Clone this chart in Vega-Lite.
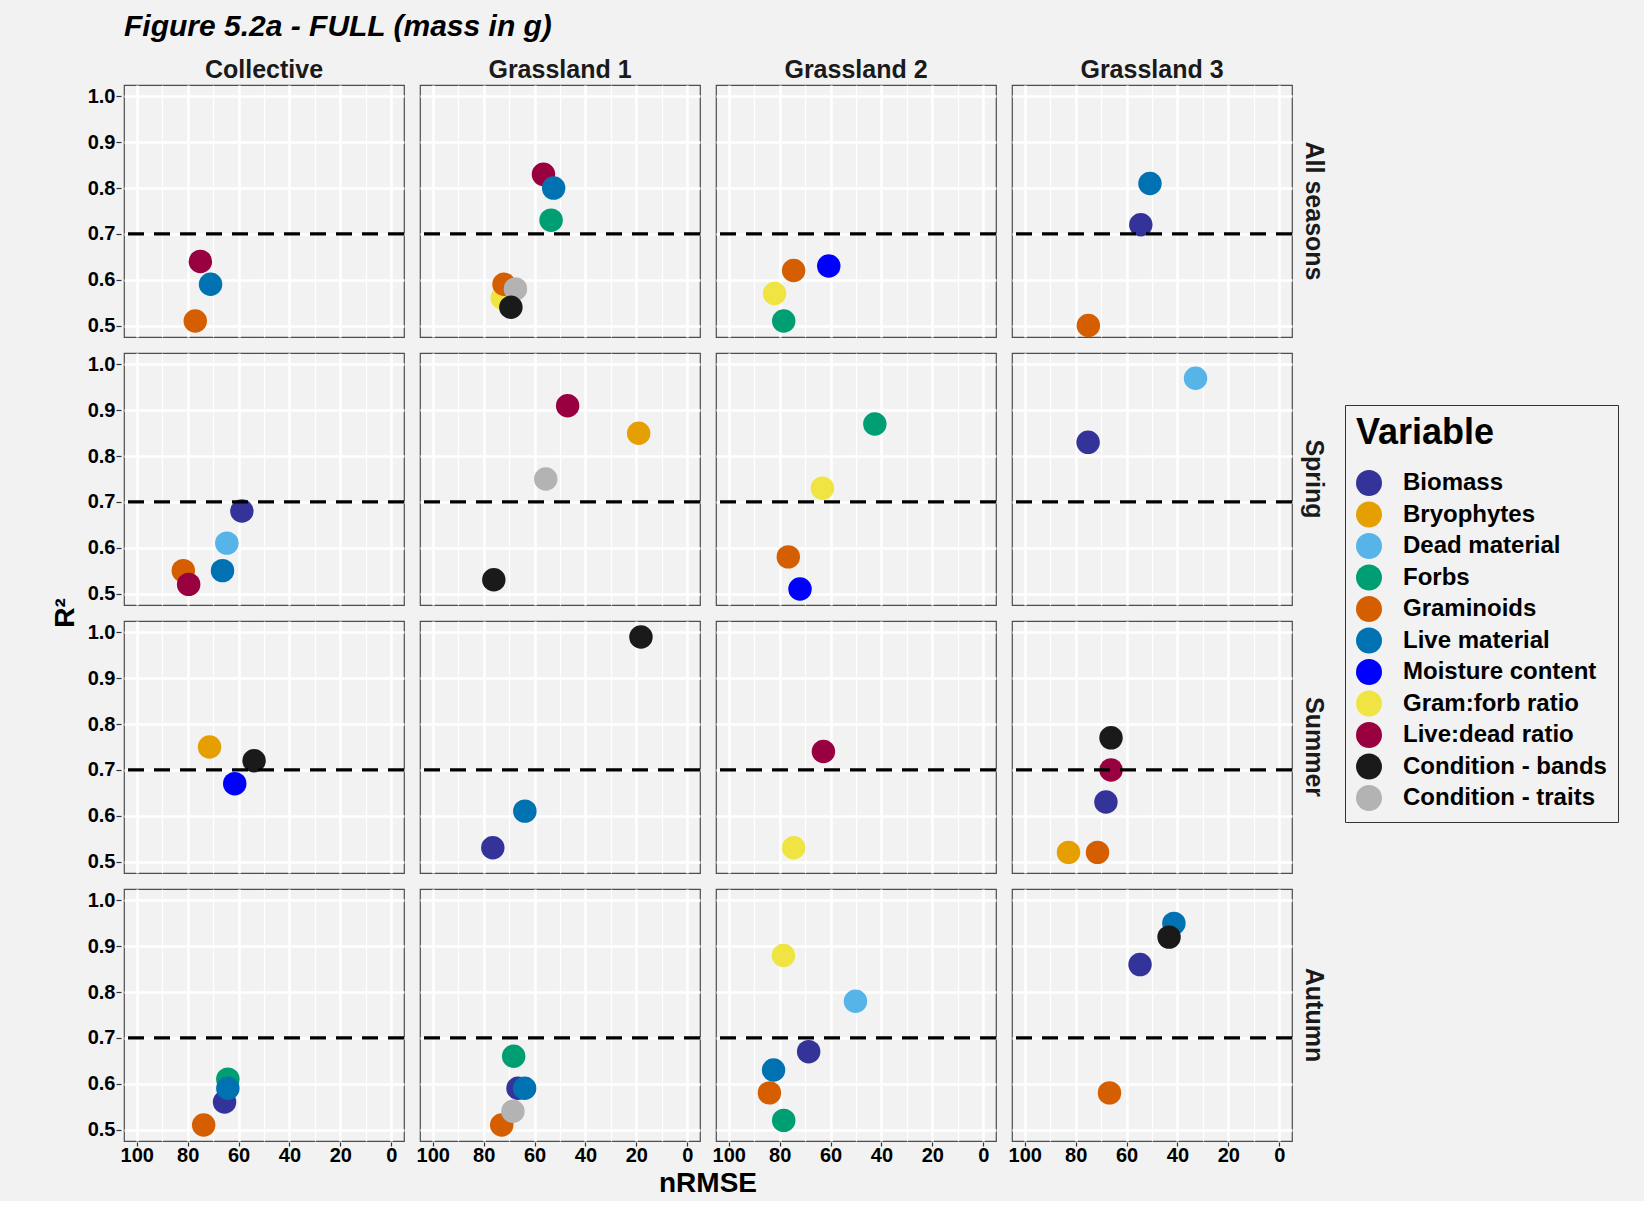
{
  "$schema": "https://vega.github.io/schema/vega-lite/v6.json",
  "background": "#F2F2F2",
  "padding": {"left": 52, "top": 12, "right": 25, "bottom": 3},
  "title": {
    "text": "Figure 5.2a - FULL (mass in g)",
    "anchor": "start",
    "frame": "group",
    "fontSize": 30,
    "fontWeight": "bold",
    "fontStyle": "italic",
    "color": "#000000",
    "offset": 16
  },
  "data": {
    "values": [
      {"group": "Collective", "season": "All seasons", "variable": "Live:dead ratio", "nRMSE": 75, "R2": 0.64},
      {"group": "Collective", "season": "All seasons", "variable": "Live material", "nRMSE": 71, "R2": 0.59},
      {"group": "Collective", "season": "All seasons", "variable": "Graminoids", "nRMSE": 77, "R2": 0.51},
      {"group": "Grassland 1", "season": "All seasons", "variable": "Live:dead ratio", "nRMSE": 56.5, "R2": 0.83},
      {"group": "Grassland 1", "season": "All seasons", "variable": "Live material", "nRMSE": 52.5, "R2": 0.80},
      {"group": "Grassland 1", "season": "All seasons", "variable": "Forbs", "nRMSE": 53.5, "R2": 0.73},
      {"group": "Grassland 1", "season": "All seasons", "variable": "Gram:forb ratio", "nRMSE": 72.7, "R2": 0.56},
      {"group": "Grassland 1", "season": "All seasons", "variable": "Graminoids", "nRMSE": 72, "R2": 0.59},
      {"group": "Grassland 1", "season": "All seasons", "variable": "Condition - traits", "nRMSE": 67.5, "R2": 0.58},
      {"group": "Grassland 1", "season": "All seasons", "variable": "Condition - bands", "nRMSE": 69.3, "R2": 0.54},
      {"group": "Grassland 2", "season": "All seasons", "variable": "Graminoids", "nRMSE": 74.5, "R2": 0.62},
      {"group": "Grassland 2", "season": "All seasons", "variable": "Gram:forb ratio", "nRMSE": 82, "R2": 0.57},
      {"group": "Grassland 2", "season": "All seasons", "variable": "Forbs", "nRMSE": 78.4, "R2": 0.51},
      {"group": "Grassland 2", "season": "All seasons", "variable": "Moisture content", "nRMSE": 60.7, "R2": 0.63},
      {"group": "Grassland 3", "season": "All seasons", "variable": "Live material", "nRMSE": 50.8, "R2": 0.81},
      {"group": "Grassland 3", "season": "All seasons", "variable": "Biomass", "nRMSE": 54.4, "R2": 0.72},
      {"group": "Grassland 3", "season": "All seasons", "variable": "Graminoids", "nRMSE": 75, "R2": 0.50},

      {"group": "Collective", "season": "Spring", "variable": "Graminoids", "nRMSE": 81.7, "R2": 0.55},
      {"group": "Collective", "season": "Spring", "variable": "Live:dead ratio", "nRMSE": 79.6, "R2": 0.52},
      {"group": "Collective", "season": "Spring", "variable": "Live material", "nRMSE": 66.3, "R2": 0.55},
      {"group": "Collective", "season": "Spring", "variable": "Dead material", "nRMSE": 64.6, "R2": 0.61},
      {"group": "Collective", "season": "Spring", "variable": "Biomass", "nRMSE": 58.7, "R2": 0.68},
      {"group": "Grassland 1", "season": "Spring", "variable": "Live:dead ratio", "nRMSE": 47, "R2": 0.91},
      {"group": "Grassland 1", "season": "Spring", "variable": "Bryophytes", "nRMSE": 19.1, "R2": 0.85},
      {"group": "Grassland 1", "season": "Spring", "variable": "Condition - traits", "nRMSE": 55.6, "R2": 0.75},
      {"group": "Grassland 1", "season": "Spring", "variable": "Condition - bands", "nRMSE": 76, "R2": 0.53},
      {"group": "Grassland 2", "season": "Spring", "variable": "Graminoids", "nRMSE": 76.6, "R2": 0.58},
      {"group": "Grassland 2", "season": "Spring", "variable": "Moisture content", "nRMSE": 72, "R2": 0.51},
      {"group": "Grassland 2", "season": "Spring", "variable": "Gram:forb ratio", "nRMSE": 63.2, "R2": 0.73},
      {"group": "Grassland 2", "season": "Spring", "variable": "Forbs", "nRMSE": 42.6, "R2": 0.87},
      {"group": "Grassland 3", "season": "Spring", "variable": "Dead material", "nRMSE": 32.9, "R2": 0.97},
      {"group": "Grassland 3", "season": "Spring", "variable": "Biomass", "nRMSE": 75.1, "R2": 0.83},

      {"group": "Collective", "season": "Summer", "variable": "Bryophytes", "nRMSE": 71.4, "R2": 0.75},
      {"group": "Collective", "season": "Summer", "variable": "Condition - bands", "nRMSE": 53.9, "R2": 0.72},
      {"group": "Collective", "season": "Summer", "variable": "Moisture content", "nRMSE": 61.5, "R2": 0.67},
      {"group": "Grassland 1", "season": "Summer", "variable": "Condition - bands", "nRMSE": 18.2, "R2": 0.99},
      {"group": "Grassland 1", "season": "Summer", "variable": "Live material", "nRMSE": 63.8, "R2": 0.61},
      {"group": "Grassland 1", "season": "Summer", "variable": "Biomass", "nRMSE": 76.4, "R2": 0.53},
      {"group": "Grassland 2", "season": "Summer", "variable": "Gram:forb ratio", "nRMSE": 74.5, "R2": 0.53},
      {"group": "Grassland 2", "season": "Summer", "variable": "Live:dead ratio", "nRMSE": 62.8, "R2": 0.74},
      {"group": "Grassland 3", "season": "Summer", "variable": "Condition - bands", "nRMSE": 66.1, "R2": 0.77},
      {"group": "Grassland 3", "season": "Summer", "variable": "Live:dead ratio", "nRMSE": 66.1, "R2": 0.70},
      {"group": "Grassland 3", "season": "Summer", "variable": "Biomass", "nRMSE": 68.1, "R2": 0.63},
      {"group": "Grassland 3", "season": "Summer", "variable": "Bryophytes", "nRMSE": 82.8, "R2": 0.52},
      {"group": "Grassland 3", "season": "Summer", "variable": "Graminoids", "nRMSE": 71.4, "R2": 0.52},

      {"group": "Collective", "season": "Autumn", "variable": "Forbs", "nRMSE": 64.2, "R2": 0.61},
      {"group": "Collective", "season": "Autumn", "variable": "Biomass", "nRMSE": 65.5, "R2": 0.56},
      {"group": "Collective", "season": "Autumn", "variable": "Live material", "nRMSE": 64.2, "R2": 0.59},
      {"group": "Collective", "season": "Autumn", "variable": "Graminoids", "nRMSE": 73.7, "R2": 0.51},
      {"group": "Grassland 1", "season": "Autumn", "variable": "Forbs", "nRMSE": 68.2, "R2": 0.66},
      {"group": "Grassland 1", "season": "Autumn", "variable": "Biomass", "nRMSE": 66.5, "R2": 0.59},
      {"group": "Grassland 1", "season": "Autumn", "variable": "Live material", "nRMSE": 63.9, "R2": 0.59},
      {"group": "Grassland 1", "season": "Autumn", "variable": "Graminoids", "nRMSE": 72.9, "R2": 0.51},
      {"group": "Grassland 1", "season": "Autumn", "variable": "Condition - traits", "nRMSE": 68.5, "R2": 0.54},
      {"group": "Grassland 2", "season": "Autumn", "variable": "Gram:forb ratio", "nRMSE": 78.5, "R2": 0.88},
      {"group": "Grassland 2", "season": "Autumn", "variable": "Dead material", "nRMSE": 50.2, "R2": 0.78},
      {"group": "Grassland 2", "season": "Autumn", "variable": "Biomass", "nRMSE": 68.6, "R2": 0.67},
      {"group": "Grassland 2", "season": "Autumn", "variable": "Live material", "nRMSE": 82.4, "R2": 0.63},
      {"group": "Grassland 2", "season": "Autumn", "variable": "Graminoids", "nRMSE": 84, "R2": 0.58},
      {"group": "Grassland 2", "season": "Autumn", "variable": "Forbs", "nRMSE": 78.4, "R2": 0.52},
      {"group": "Grassland 3", "season": "Autumn", "variable": "Live material", "nRMSE": 41.4, "R2": 0.95},
      {"group": "Grassland 3", "season": "Autumn", "variable": "Condition - bands", "nRMSE": 43.3, "R2": 0.92},
      {"group": "Grassland 3", "season": "Autumn", "variable": "Biomass", "nRMSE": 54.7, "R2": 0.86},
      {"group": "Grassland 3", "season": "Autumn", "variable": "Graminoids", "nRMSE": 66.7, "R2": 0.58}
    ]
  },
  "spacing": {"row": 14, "column": 10},
  "facet": {
    "column": {
      "field": "group",
      "type": "nominal",
      "sort": ["Collective", "Grassland 1", "Grassland 2", "Grassland 3"],
      "header": {
        "title": "nRMSE",
        "titleOrient": "bottom",
        "titleFontSize": 28,
        "titleFontWeight": "bold",
        "titleColor": "#000000",
        "titlePadding": -5,
        "labelOrient": "top",
        "labelFontSize": 25,
        "labelFontWeight": "bold",
        "labelColor": "#1A1A1A",
        "labelPadding": 1
      }
    },
    "row": {
      "field": "season",
      "type": "nominal",
      "sort": ["All seasons", "Spring", "Summer", "Autumn"],
      "header": {
        "title": "R²",
        "titleOrient": "left",
        "titleFontSize": 28,
        "titleFontWeight": "bold",
        "titleColor": "#000000",
        "titlePadding": -3,
        "labelOrient": "right",
        "labelAngle": 90,
        "labelFontSize": 25,
        "labelFontWeight": "bold",
        "labelColor": "#1A1A1A",
        "labelPadding": 6
      }
    }
  },
  "spec": {
    "width": 280,
    "height": 252,
    "layer": [
      {
        "mark": {"type": "point", "filled": true, "size": 550, "opacity": 1, "strokeWidth": 0},
        "encoding": {
          "x": {
            "field": "nRMSE",
            "type": "quantitative",
            "title": null,
            "scale": {"domain": [-5, 105], "reverse": true, "nice": false, "zero": false},
            "axis": {
              "values": [0, 10, 20, 30, 40, 50, 60, 70, 80, 90, 100],
              "labelExpr": "datum.value % 20 === 0 ? datum.label : ''",
              "labelOverlap": false,
              "labelFlush": false,
              "gridWidth": {"condition": {"test": "datum.value % 20 === 0", "value": 2.5}, "value": 1.2},
              "tickOpacity": {"condition": {"test": "datum.value % 20 === 0", "value": 1}, "value": 0}
            }
          },
          "y": {
            "field": "R2",
            "type": "quantitative",
            "title": null,
            "scale": {"domain": [0.475, 1.025], "nice": false, "zero": false},
            "axis": {
              "values": [0.5, 0.55, 0.6, 0.65, 0.7, 0.75, 0.8, 0.85, 0.9, 0.95, 1.0],
              "labelExpr": "round(datum.value * 100) % 10 === 0 ? format(datum.value, '.1f') : ''",
              "labelOverlap": false,
              "labelFlush": false,
              "gridWidth": {"condition": {"test": "round(datum.value * 100) % 10 === 0", "value": 2.5}, "value": 1.2},
              "tickOpacity": {"condition": {"test": "round(datum.value * 100) % 10 === 0", "value": 1}, "value": 0}
            }
          },
          "color": {
            "field": "variable",
            "type": "nominal",
            "title": "Variable",
            "scale": {
              "domain": ["Biomass", "Bryophytes", "Dead material", "Forbs", "Graminoids", "Live material", "Moisture content", "Gram:forb ratio", "Live:dead ratio", "Condition - bands", "Condition - traits"],
              "range": ["#333399", "#E69F00", "#56B4E9", "#009E73", "#D55E00", "#0072B2", "#0000FF", "#F0E442", "#990040", "#1A1A1A", "#B3B3B3"]
            },
            "legend": {"orient": "none", "legendX": 1221, "legendY": 320}
          }
        }
      },
      {
        "transform": [{"aggregate": [{"op": "count", "as": "n"}], "groupby": ["group", "season"]}],
        "mark": {"type": "rule", "color": "#000000", "strokeWidth": 3.2, "strokeDash": [16, 10]},
        "encoding": {"y": {"datum": 0.7}}
      }
    ]
  },
  "config": {
    "font": "Liberation Sans",
    "view": {"stroke": "#4D4D4D", "strokeWidth": 1.2, "fill": "#F2F2F2"},
    "axis": {
      "domain": false,
      "gridColor": "#FFFFFF",
      "gridOpacity": 1,
      "tickColor": "#333333",
      "tickSize": 5,
      "tickWidth": 1.2,
      "labelFontSize": 20,
      "labelFontWeight": "bold",
      "labelColor": "#000000",
      "labelPadding": 1
    },
    "axisX": {"tickSize": 4, "labelPadding": -1},
    "legend": {
      "padding": 11,
      "fillColor": "#F2F2F2",
      "strokeColor": "#333333",
      "titleFontSize": 36,
      "titleFontWeight": "bold",
      "titleColor": "#000000",
      "titlePadding": 18,
      "labelFontSize": 24,
      "labelFontWeight": "bold",
      "labelColor": "#000000",
      "labelOffset": 21,
      "labelLimit": 400,
      "symbolSize": 676,
      "symbolType": "circle",
      "symbolStrokeWidth": 0,
      "rowPadding": 5.5
    }
  }
}
